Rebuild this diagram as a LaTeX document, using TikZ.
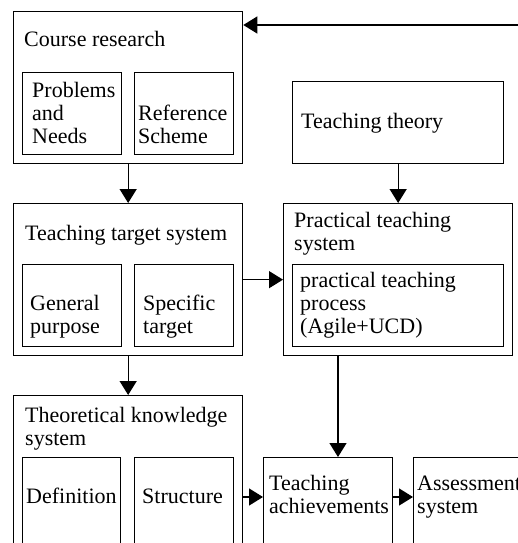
\documentclass[tikz,border=0pt]{standalone}
\usepackage{fontspec}
\setmainfont{Liberation Serif}
\usepackage{tikz}
\usetikzlibrary{arrows.meta, calc, positioning}

\tikzset{
  box/.style={draw, line width=1.3pt, anchor=north west, inner sep=0pt},
  lbl/.style={anchor=base west, align=left, inner sep=0pt, font=\fontsize{22}{23}\selectfont},
  arr/.style={-{Triangle[length=14pt,width=17pt]}, line width=1.3pt},
}

\begin{document}
\begin{tikzpicture}[x=1pt,y=-1pt]
\useasboundingbox (0,0) rectangle (518,543);
\clip (0,0) rectangle (518,543);
% outer boxes
\node[box, minimum width=229pt, minimum height=152pt] (course) at (13,11) {};
\node[box, minimum width=211pt, minimum height=82pt] (theory) at (292,81) {};
\node[box, minimum width=229pt, minimum height=152pt] (target) at (13,203) {};
\node[box, minimum width=229pt, minimum height=152pt] (prac) at (283,203) {};
\node[box, minimum width=229pt, minimum height=200pt] (theo) at (13,395) {};
\node[box, minimum width=129pt, minimum height=120pt] (ach) at (263,457) {};
\node[box, minimum width=129pt, minimum height=120pt] (ass) at (413,457) {};
% inner boxes
\node[box, minimum width=99pt, minimum height=82pt] (needs) at (22,72) {};
\node[box, minimum width=99pt, minimum height=82pt] (scheme) at (134,72) {};
\node[box, minimum width=99pt, minimum height=82pt] (purpose) at (22,264) {};
\node[box, minimum width=99pt, minimum height=82pt] (specific) at (134,264) {};
\node[box, minimum width=211pt, minimum height=82pt] (process) at (292,264) {};
\node[box, minimum width=98pt, minimum height=120pt] (defn) at (22,457) {};
\node[box, minimum width=99pt, minimum height=120pt] (struct) at (134,457) {};
% texts (base = last line)
\node[lbl] (tcourse) at (24,47) {Course research};
\node[lbl] (tneeds) at (32,143) {Problems\\and\\Needs};
\node[lbl] (tscheme) at (138,143) {Reference\\Scheme};
\node[lbl] (ttheory) at (301,128) {Teaching theory};
\node[lbl] (ttarget) at (25,240) {Teaching target system};
\node[lbl] (tpurpose) at (30,333) {General\\purpose};
\node[lbl] (tspecific) at (143,333) {Specific\\target};
\node[lbl] (tprac) at (294,250) {Practical teaching\\system};
\node[lbl] (tprocess) at (300,333) {practical teaching\\process\\(Agile+UCD)};
\node[lbl] (ttheo) at (25,445) {Theoretical knowledge\\system};
\node[lbl] (tdefn) at (26,503) {Definition};
\node[lbl] (tstruct) at (142,503) {Structure};
\node[lbl] (tach) at (269,513) {Teaching\\achievements};
\node[lbl] (tass) at (417,513) {Assessment\\system};
% connectors
\coordinate (fb) at (518,25);
\coordinate (drop) at (338,355);
\coordinate (row) at (0,497);
\draw[arr] (fb) -- (fb -| course.east);
\draw[arr] (course.south) -- (target.north);
\draw[arr] (target.south) -- (theo.north);
\draw[arr] (theory.south) -- (prac.north);
\draw[arr] (target.east) -- (prac.west);
\draw[arr] (drop) -- (drop |- ach.north);
\draw[arr] (theo.east |- row) -- (ach.west |- row);
\draw[arr] (ach.east |- row) -- (ass.west |- row);
\end{tikzpicture}
\end{document}
